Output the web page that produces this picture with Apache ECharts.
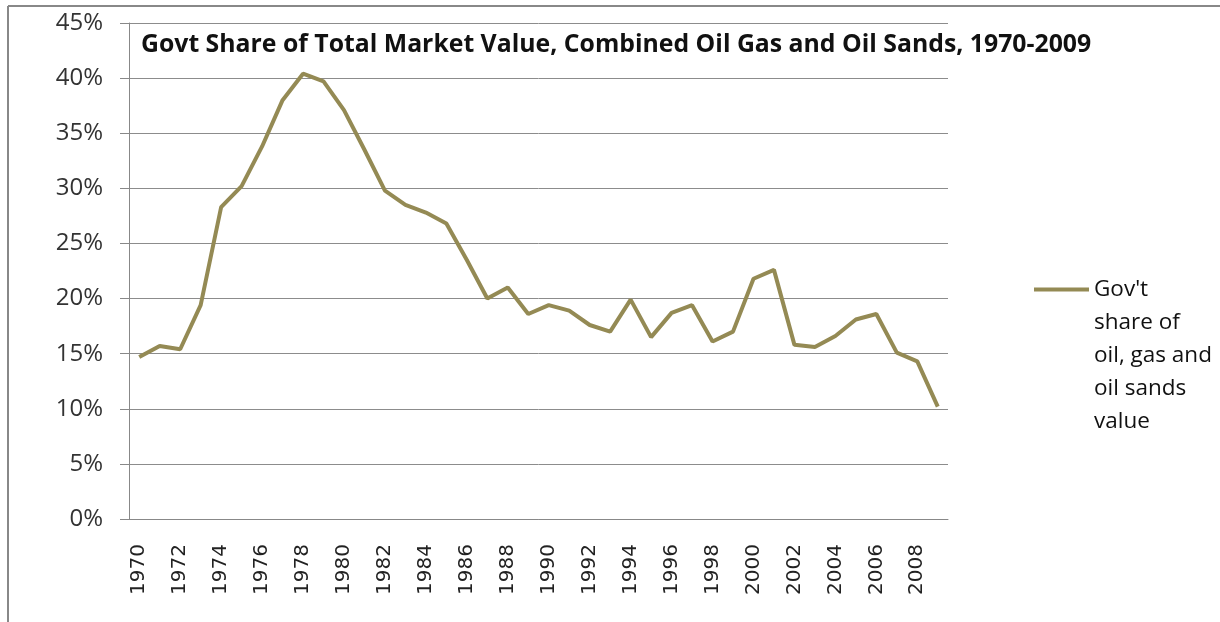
<!DOCTYPE html>
<html>
<head>
<meta charset="utf-8">
<script src="https://cdn.jsdelivr.net/npm/echarts@6/dist/echarts.min.js"></script>
<style>
  html, body { margin: 0; padding: 0; background: #fff; }
  #chart { width: 1220px; height: 622px; }
</style>
</head>
<body>
<div id="chart"></div>
<script>
const years = [
  "1970", "1971", "1972", "1973", "1974", "1975", "1976", "1977", "1978", "1979",
  "1980", "1981", "1982", "1983", "1984", "1985", "1986", "1987", "1988", "1989",
  "1990", "1991", "1992", "1993", "1994", "1995", "1996", "1997", "1998", "1999",
  "2000", "2001", "2002", "2003", "2004", "2005", "2006", "2007", "2008", "2009"
];
// gov't share, percent
const govShare = [
  14.7, 15.7, 15.4, 19.4, 28.3, 30.2, 33.8, 38.0, 40.4, 39.7,
  37.1, 33.5, 29.8, 28.5, 27.8, 26.8, 23.5, 20.0, 21.0, 18.6,
  19.4, 18.9, 17.6, 17.0, 19.9, 16.5, 18.7, 19.4, 16.1, 17.0,
  21.8, 22.6, 15.8, 15.6, 16.6, 18.1, 18.6, 15.1, 14.3, 10.2
];
const seriesName = "Gov't\nshare of\noil, gas and\noil sands\nvalue";
const chartTitle = "Govt Share of Total Market Value, Combined Oil Gas and Oil Sands, 1970-2009";

const chart = echarts.init(document.getElementById("chart"));

const option = {
  animation: false,
  backgroundColor: "#fff",
  title: {
    text: chartTitle,
    left: 141,
    top: 32,
    padding: 0,
    textStyle: { fontFamily: "Open Sans", fontWeight: "bold", fontSize: 24.8, color: "#111" }
  },
  legend: {
    data: [seriesName],
    left: 1034,
    top: 141,
    padding: 0,
    icon: "rect",
    itemWidth: 55,
    itemHeight: 4,
    itemGap: 0,
    // pad with blank lines so the first line sits level with the icon
    formatter: name => "\n\n\n\n" + name,
    textStyle: {
      fontFamily: "Open Sans",
      fontSize: 22.5,
      color: "#111",
      lineHeight: 33
    }
  },
  graphic: [
    { type: "line", shape: { x1: 8, y1: 6, x2: 1220, y2: 6 }, style: { stroke: "#888", lineWidth: 2 }, silent: true },
    { type: "line", shape: { x1: 8, y1: 6, x2: 8, y2: 622 }, style: { stroke: "#888", lineWidth: 2 }, silent: true }
  ],
  grid: { left: 129, right: 272, top: 23, bottom: 103 },
  xAxis: {
    type: "category",
    data: years,
    boundaryGap: true,
    axisLine: { lineStyle: { color: "#888", width: 1 } },
    axisTick: { interval: 0, length: 9, lineStyle: { color: "#888" } },
    axisLabel: {
      interval: 1,
      rotate: 90,
      margin: 25,
      fontFamily: "DejaVu Sans",
      fontSize: 20,
      color: "#222"
    }
  },
  yAxis: {
    type: "value",
    min: 0,
    max: 45,
    interval: 5,
    axisLine: { show: true, lineStyle: { color: "#888", width: 1 } },
    axisTick: { show: true, length: 9, lineStyle: { color: "#888" } },
    splitLine: { lineStyle: { color: "#8c8c8c", width: 1 } },
    axisLabel: {
      formatter: "{value}%",
      margin: 26,
      fontFamily: "Open Sans",
      fontSize: 24,
      color: "#333"
    }
  },
  series: [
    {
      name: seriesName,
      type: "line",
      data: govShare,
      symbol: "none",
      color: "#948a54",
      lineStyle: { width: 4, color: "#948a54" }
    }
  ]
};

chart.setOption(option);
</script>
</body>
</html>
